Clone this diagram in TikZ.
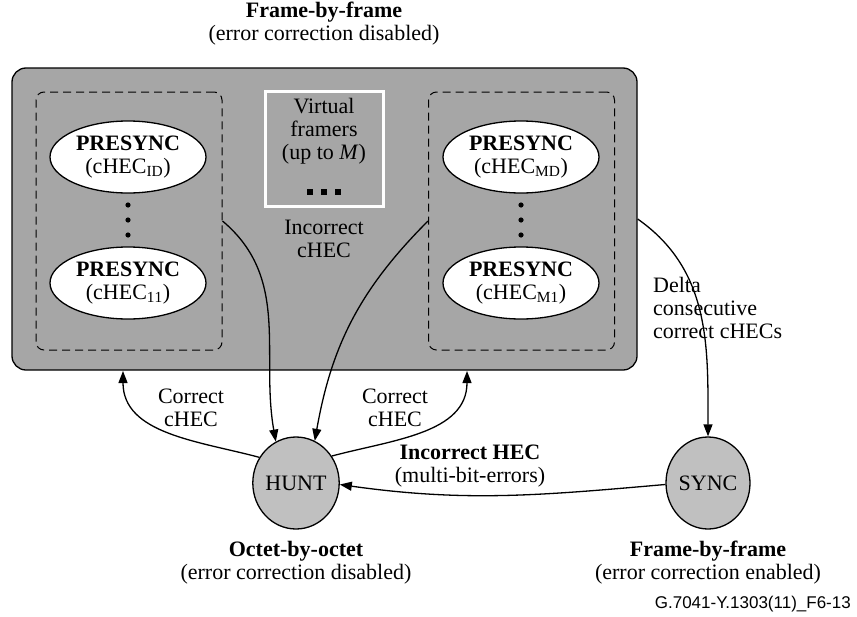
\documentclass[tikz,border=0pt]{standalone}
\usepackage{fontspec}
\setmainfont{Liberation Serif}
\newfontfamily\codefont{Liberation Sans}
\usetikzlibrary{shapes,arrows.meta}
\definecolor{boxgrey}{RGB}{166,166,166}
\definecolor{stategrey}{RGB}{192,192,192}

\begin{document}
\begin{tikzpicture}[x=1pt,y=-1pt,
    every node/.style={font=\fontsize{22}{23}\selectfont,align=center,inner sep=0pt},
    presync/.style={ellipse,draw,line width=1.3pt,fill=white,minimum width=156pt,minimum height=72pt},
    state/.style={ellipse,draw,line width=1.3pt,fill=stategrey,minimum width=84pt,minimum height=92pt},
    group/.style={draw,dash pattern=on 8pt off 5pt,line width=1pt,rounded corners=8pt,minimum width=186pt,minimum height=258pt},
    arr/.style={line width=1.3pt,-{Triangle[length=12pt,width=9pt]}}]
		\useasboundingbox (0,0) rectangle (857,616);
		\node  (0) at (324,24) {\textbf{Frame-by-frame}\\(error correction disabled)};
		\node[draw,line width=1.3pt,fill=boxgrey,rounded corners=14pt,minimum width=625pt,minimum height=302pt]  (1) at (324.5,219) {};
		\node[group]  (2) at (129,221) {};
		\node[group]  (3) at (521.5,221) {};
		\node[draw=white,line width=3pt,minimum width=118pt,minimum height=115pt]  (4) at (324,148.5) {};
		\node  (5) at (324,131) {Virtual\\framers\\(up to \textit{M})};
		\node  (6) at (324,239) {Incorrect\\cHEC};
		\node[presync]  (7) at (128,157) {\textbf{PRESYNC}\\(cHEC$_{\mathrm{ID}}$)};
		\node[presync]  (8) at (128,283) {\textbf{PRESYNC}\\(cHEC$_{\mathrm{11}}$)};
		\node[presync]  (9) at (521,157) {\textbf{PRESYNC}\\(cHEC$_{\mathrm{MD}}$)};
		\node[presync]  (10) at (521,283) {\textbf{PRESYNC}\\(cHEC$_{\mathrm{M1}}$)};
		\node[state]  (11) at (296,483) {HUNT};
		\node[state]  (12) at (708,483) {SYNC};
		\node  (13) at (191,408) {Correct\\cHEC};
		\node  (14) at (395,408) {Correct\\cHEC};
		\node  (15) at (470,466) {\textbf{Incorrect HEC}\\(multi-bit-errors)};
		\node[anchor=west,align=left]  (16) at (653,308) {Delta\\consecutive\\correct cHECs};
		\node  (17) at (296,563) {\textbf{Octet-by-octet}\\(error correction disabled)};
		\node  (18) at (708,563) {\textbf{Frame-by-frame}\\(error correction enabled)};
		\node[anchor=east,font=\codefont\fontsize{17}{19}\selectfont]  (19) at (851,604) {G.7041-Y.1303(11)\_F6-13};
		\coordinate (c1) at (123,371);
		\coordinate (c2) at (467,371);
		\foreach \y in {205,220,235} {
			\fill (128,\y) circle(2.6);
			\fill (521,\y) circle(2.6);
		}
		\foreach \x in {310,324,338}
			\fill (\x-3,189) rectangle (\x+3,195);
		\draw[arr] (2.east) to[out=-40,in=100] (11.116);
		\draw[arr] (3.west) to[out=-135,in=80] (11.66);
		\draw[arr] (11.145) to[out=165,in=-90] (c1);
		\draw[arr] (11.37) to[out=15,in=-90] (c2);
		\draw[arr] (1.east) to[out=-35,in=90] (12.north);
		\draw[arr] (12.182) to[out=185,in=-8] (11.-2);
    \end{tikzpicture}
\end{document}
